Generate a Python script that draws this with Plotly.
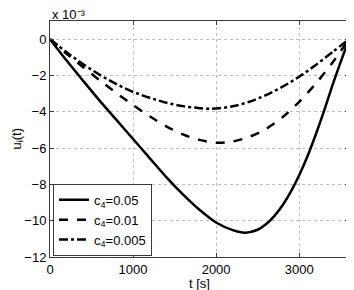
import plotly.graph_objects as go

# Data (u in units of 1e-3)
t_solid = [0, 200, 400, 600, 800, 1000, 1200, 1400, 1600, 1800, 2000, 2200, 2350, 2500,
           2600, 2700, 2800, 2900, 3000, 3100, 3200, 3300, 3400, 3500, 3600]
u_solid = [0, -1.18, -2.3, -3.4, -4.45, -5.5, -6.55, -7.6, -8.55, -9.4, -10.1, -10.52, -10.66, -10.5,
           -10.2, -9.75, -9.15, -8.4, -7.5, -6.45, -5.25, -3.95, -2.55, -1.25, 0]

t_dash = [0, 200, 400, 600, 800, 1000, 1200, 1400, 1600, 1800, 2000, 2200, 2400, 2600,
          2800, 3000, 3200, 3400, 3600]
u_dash = [0, -0.8, -1.55, -2.27, -2.97, -3.63, -4.25, -4.8, -5.25, -5.55, -5.71, -5.64, -5.38, -4.95,
          -4.3, -3.45, -2.45, -1.3, 0]

t_dashdot = [0, 200, 400, 600, 800, 1000, 1200, 1400, 1600, 1800, 1950, 2200, 2400, 2600,
             2800, 3000, 3200, 3400, 3600]
u_dashdot = [0, -0.72, -1.38, -1.97, -2.48, -2.9, -3.23, -3.5, -3.69, -3.8, -3.84, -3.7, -3.45, -3.08,
             -2.62, -2.07, -1.42, -0.72, 0]

names = ["c<sub>4</sub>=0.05", "c<sub>4</sub>=0.01", "c<sub>4</sub>=0.005"]
x_ticks = [0, 1000, 2000, 3000]
y_ticks = [0, -2, -4, -6, -8, -10, -12]
y_tick_labels = ["0", "\u22122", "\u22124", "\u22126", "\u22128", "\u221210", "\u221212"]

FONT = "Liberation Sans, Arial, sans-serif"

fig = go.Figure()
for t, u, nm, dash in [(t_solid, u_solid, names[0], "solid"),
                       (t_dash, u_dash, names[1], "dash"),
                       (t_dashdot, u_dashdot, names[2], "dashdot")]:
    fig.add_trace(go.Scatter(x=t, y=u, mode="lines", name=nm,
                             line=dict(color="black", width=2.5, dash=dash, shape="spline", smoothing=0.8)))

axis_common = dict(showline=True, linecolor="#3a3a3a", linewidth=1, mirror="ticks",
                   ticks="inside", ticklen=4, tickcolor="#3a3a3a",
                   showgrid=True, gridcolor="#bdbdbd", griddash="dot", gridwidth=1,
                   zeroline=False, automargin=False,
                   tickfont=dict(family=FONT, size=13, color="black"))

fig.update_layout(
    width=346, height=282,
    margin=dict(l=42, r=5, t=13, b=33),
    plot_bgcolor="white", paper_bgcolor="white",
    font=dict(family=FONT, size=13, color="black"),
    xaxis=dict(range=[0, 3600], tickvals=x_ticks, **axis_common),
    yaxis=dict(range=[-12, 1], tickvals=y_ticks, ticktext=y_tick_labels, **axis_common),
    legend=dict(x=0.01, y=0.005, xanchor="left", yanchor="bottom",
                bgcolor="white", bordercolor="#3a3a3a", borderwidth=1,
                font=dict(family=FONT, size=13), tracegroupgap=0, itemwidth=30),
    showlegend=True,
)

fig.add_annotation(text="t [s]", xref="paper", yref="paper", x=0.5, y=-0.072,
                   xanchor="center", yanchor="top", showarrow=False,
                   font=dict(family=FONT, size=13))
fig.add_annotation(text="u<sub>i</sub>(t)", xref="paper", yref="paper", x=-0.112, y=0.5,
                   xanchor="center", yanchor="middle", showarrow=False, textangle=-90,
                   font=dict(family=FONT, size=13))
fig.add_annotation(text="x 10\u207b\u00b3", xref="paper", yref="paper", x=0.0, y=1.0,
                   xanchor="left", yanchor="bottom", showarrow=False, yshift=-3,
                   font=dict(family=FONT, size=13))

fig.write_html("out.html")
